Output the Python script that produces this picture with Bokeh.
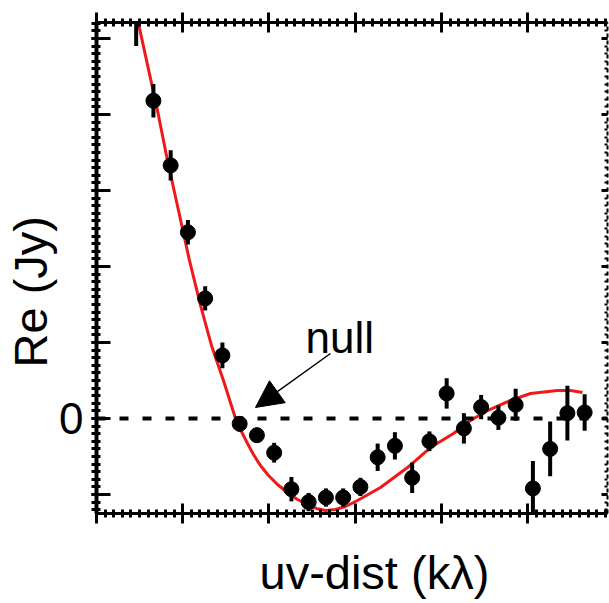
import numpy as np
from bokeh.plotting import figure
from bokeh.models import (ColumnDataSource, Range1d, LinearAxis, FixedTicker, Span,
                          Label, Arrow, NormalHead, CustomJSTickFormatter, Title)
from bokeh.embed import file_html
from bokeh.resources import INLINE

# ---- data ----
uv = [0.46, 0.66, 0.86, 1.06, 1.26, 1.46, 1.66, 1.86, 2.06, 2.26, 2.46, 2.66, 2.86, 3.06,
      3.26, 3.46, 3.66, 3.86, 4.06, 4.26, 4.46, 4.66, 4.86, 5.06, 5.26, 5.46, 5.66]
re = [5.39, 4.18, 3.33, 2.45, 1.58, 0.83, -0.07, -0.22, -0.45, -0.93, -1.10, -1.04, -1.04,
      -0.90, -0.51, -0.36, -0.78, -0.30, 0.33, -0.13, 0.15, 0.01, 0.18, -0.92, -0.40, 0.07, 0.08]
err = [0.49, 0.22, 0.20, 0.16, 0.16, 0.17, 0.10, 0.10, 0.13, 0.16, 0.12, 0.12, 0.12, 0.12,
       0.18, 0.18, 0.20, 0.13, 0.20, 0.20, 0.16, 0.16, 0.21, 0.36, 0.36, 0.36, 0.24]

model_uv = [0.441, 0.580, 0.707, 0.823, 0.951, 1.078, 1.206, 1.333, 1.472, 1.612, 1.681,
            1.751, 1.820, 1.901, 1.994, 2.099, 2.214, 2.330, 2.446, 2.551, 2.655, 2.771,
            2.887, 3.026, 3.293, 3.606, 3.872, 4.139, 4.336, 4.533, 4.800, 5.032, 5.345,
            5.496, 5.635]
model_re = [5.434, 4.711, 4.053, 3.395, 2.737, 2.079, 1.487, 0.961, 0.500, 0.000, -0.171,
            -0.329, -0.474, -0.618, -0.750, -0.868, -0.974, -1.066, -1.132, -1.184, -1.211,
            -1.197, -1.158, -1.079, -0.908, -0.645, -0.382, -0.197, -0.026, 0.105, 0.237,
            0.329, 0.368, 0.368, 0.342]

y_major = [-1, 0, 1, 2, 3, 4, 5]
x_major = [0, 1, 2, 3, 4, 5]

x_title = "uv-dist (kλ)"
y_title = "Re (Jy)"

FONT = "Liberation Sans"

src = ColumnDataSource(dict(
    x=uv, y=re,
    lo=[a - b for a, b in zip(re, err)],
    hi=[a + b for a, b in zip(re, err)],
))

p = figure(width=609, height=603, x_range=Range1d(0, 5.925), y_range=Range1d(-1.25, 5.21),
           x_axis_type=None, y_axis_type=None, output_backend="svg", toolbar_location=None,
           min_border_left=96, min_border_right=2, min_border_top=22, min_border_bottom=90)
p.outline_line_color = None
p.background_fill_color = "white"
p.border_fill_color = "white"

y_minor = [round(v, 2) for v in np.arange(-1.2, 5.21, 0.1)]
x_minor = [round(v, 2) for v in np.arange(0, 5.93, 0.1)]

empty = CustomJSTickFormatter(code="return ''")

# left axis
left = LinearAxis(ticker=FixedTicker(ticks=y_major, minor_ticks=y_minor))
left.axis_line_width = 4
left.major_tick_line_width = 3
left.major_tick_in = 14
left.major_tick_out = 5
left.minor_tick_in = 4
left.minor_tick_out = 5
left.minor_tick_line_width = 3
left.major_label_overrides = {t: "" for t in y_major if t != 0}
left.major_label_text_font = FONT
left.major_label_text_font_size = "44px"
left.major_label_text_color = "black"
left.major_label_standoff = 8
p.add_layout(left, "left")

def frame_axis(ax, dash=None, width=3, tin=10, tout=10, mtin=4, mtout=4, standoff=0):
    ax.axis_line_width = width
    if dash:
        ax.axis_line_dash = dash
    ax.major_tick_line_width = 3
    ax.major_tick_in = tin
    ax.major_tick_out = tout
    ax.minor_tick_line_width = 3
    ax.minor_tick_in = mtin
    ax.minor_tick_out = mtout
    ax.major_label_text_font_size = "1px"
    ax.major_label_standoff = standoff
    return ax

bottom = frame_axis(LinearAxis(ticker=FixedTicker(ticks=x_major, minor_ticks=x_minor), formatter=empty))
p.add_layout(bottom, "below")
top = frame_axis(LinearAxis(ticker=FixedTicker(ticks=x_major, minor_ticks=x_minor), formatter=empty))
p.add_layout(top, "above")
right = frame_axis(LinearAxis(ticker=FixedTicker(ticks=y_major, minor_ticks=y_minor), formatter=empty),
                   dash="4 3", width=2, tin=6, tout=0, mtin=3, mtout=0)
right.minor_tick_line_width = 2
p.add_layout(right, "right")

# axis titles (Title objects so they can sit outside the frame)
xt = Title(text=x_title, text_font=FONT, text_font_size="47px", text_font_style="normal",
           text_color="black", align="left", offset=163, vertical_align="top", standoff=0)
try:
    xt.padding = (0, 0, 22, 0)
except Exception:
    xt.standoff = 20
p.add_layout(xt, "below")
p.add_layout(Title(text=y_title, text_font=FONT, text_font_size="47px", text_font_style="normal",
                   text_color="black", align="left", offset=146, vertical_align="bottom",
                   standoff=0), "left")

# zero line
p.add_layout(Span(location=0, dimension="width", line_color="black", line_width=4, line_dash="9 14"))

# model curve
p.line(model_uv, model_re, line_color="#f01818", line_width=3)

# data with error bars
p.segment(x0="x", y0="lo", x1="x", y1="hi", source=src, line_color="black", line_width=4)
p.scatter("x", "y", source=src, size=15, fill_color="black", line_color="black")

# annotation
p.add_layout(Arrow(end=NormalHead(size=27, fill_color="black", line_color="black"),
                   x_start=2.713, y_start=0.855, x_end=1.843, y_end=0.145,
                   line_color="black", line_width=1.5))
p.add_layout(Label(x=2.423, y=1.065, text="null", text_font=FONT, text_font_size="44px",
                   text_color="black", text_baseline="alphabetic", text_align="left"))

open("out.html", "w").write(file_html(p, INLINE))
